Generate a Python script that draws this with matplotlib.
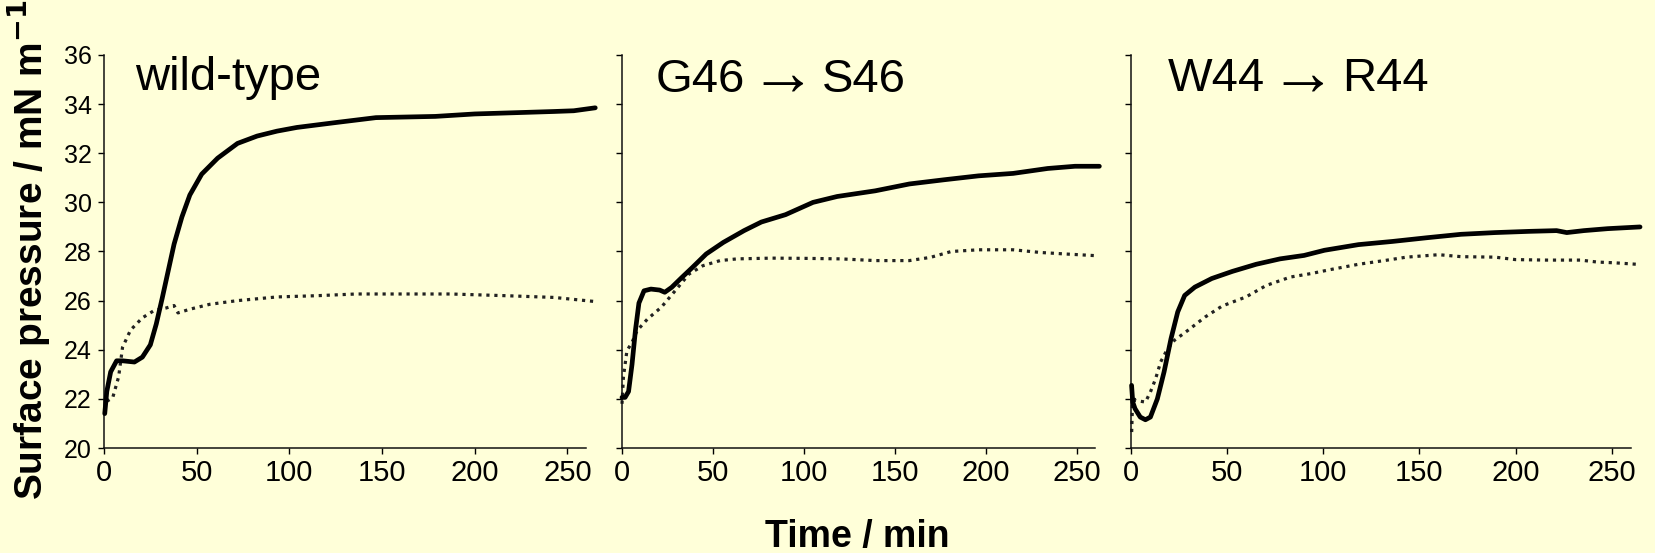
import matplotlib
matplotlib.use("Agg")
import matplotlib.pyplot as plt
from matplotlib.transforms import IdentityTransform

plt.rcParams['font.family'] = ['Liberation Sans', 'DejaVu Sans']

BG = '#FFFFD9'

# ---- data (time in min, surface pressure in mN/m) ----
wt_solid_t = [0.4, 1.5, 3.6, 6.8, 10, 16.4, 20.7, 25, 28.2, 31.4, 34.6, 37.8, 42, 46.3, 52.7,
              61.3, 72, 82.6, 93.3, 104, 125, 146.7, 178.7, 200, 221.4, 242.7, 253.4, 265]
wt_solid_p = [21.4, 22.3, 23.1, 23.55, 23.55, 23.5, 23.7, 24.2, 25.05, 26.1, 27.2, 28.3, 29.4, 30.3, 31.15,
              31.8, 32.4, 32.7, 32.9, 33.05, 33.25, 33.45, 33.5, 33.6, 33.65, 33.7, 33.73, 33.85]
wt_dot_t = [1.5, 4.7, 7.9, 10, 14.3, 20.7, 27.1, 33.5, 37.8, 39.9, 46.3, 57, 72, 93.3, 114.6,
            136, 157, 187, 217, 242.7, 264]
wt_dot_p = [21.9, 22.05, 22.9, 24.1, 24.8, 25.3, 25.6, 25.7, 25.8, 25.5, 25.65, 25.85, 26.0, 26.15, 26.2,
            26.27, 26.27, 26.27, 26.2, 26.13, 25.97]

g46_solid_t = [0, 1.7, 3.6, 5.5, 7.4, 9.3, 12.1, 15.9, 20.7, 23.5, 27.3, 33, 38.7, 46.3, 55.7, 67.1,
               76.6, 89.9, 105, 118.3, 139.2, 158, 177, 196, 215, 234, 249, 262.4]
g46_solid_p = [22.06, 22.06, 22.3, 23.4, 24.8, 25.9, 26.4, 26.47, 26.43, 26.34, 26.54, 26.95, 27.35, 27.9,
               28.37, 28.85, 29.2, 29.5, 30.0, 30.24, 30.47, 30.75, 30.92, 31.08, 31.18, 31.38, 31.47, 31.47]
g46_dot_t = [0, 0.8, 2.7, 5.5, 8.3, 14, 21.6, 29.2, 36.8, 44.4, 53.9, 63.3, 82.3, 101.3, 120.2, 139.2,
             158, 169.5, 181, 196, 215, 230, 243.5, 260.5]
g46_dot_p = [21.8, 22.9, 23.96, 24.3, 24.78, 25.25, 25.73, 26.4, 27.08, 27.42, 27.63, 27.7, 27.73, 27.72,
             27.7, 27.63, 27.63, 27.76, 28.0, 28.07, 28.07, 27.96, 27.9, 27.83]

w44_solid_t = [0.3, 0.9, 2.1, 4.8, 7.5, 10.1, 13.7, 17.2, 20.8, 24.3, 27.9, 33.2, 42, 52.7, 65.1, 77.5,
               90, 100.6, 118.3, 136, 153.8, 171.6, 189.3, 207, 221.3, 226.6, 235.5, 247.9, 264.7]
w44_solid_p = [22.55, 21.87, 21.6, 21.26, 21.15, 21.26, 22.0, 23.1, 24.45, 25.54, 26.21, 26.55, 26.9, 27.19,
               27.48, 27.7, 27.84, 28.05, 28.28, 28.41, 28.56, 28.7, 28.77, 28.82, 28.85, 28.77, 28.85, 28.93, 29.0]
w44_dot_t = [0.35, 0.9, 2.1, 7.5, 10.1, 12.8, 15.4, 19, 22.5, 29.6, 38.5, 47.4, 59.8, 70.4, 82.9, 93.5,
             104.1, 118.3, 132.5, 143.2, 160, 171.6, 189.3, 200, 216, 233.7, 242.5, 251.4, 263]
w44_dot_p = [20.65, 22.14, 21.94, 21.87, 22.28, 22.82, 23.5, 24.04, 24.38, 24.79, 25.33, 25.78, 26.15, 26.62,
             26.96, 27.1, 27.27, 27.48, 27.64, 27.77, 27.87, 27.79, 27.77, 27.67, 27.65, 27.65, 27.57, 27.54, 27.48]

title_parts = [['wild-type'], ['G46', '\u2192', 'S46'], ['W44', '\u2192', 'R44']]
x_ticks = [0, 50, 100, 150, 200, 250]
y_ticks = [20, 22, 24, 26, 28, 30, 32, 34, 36]

panels = [
    (wt_solid_t, wt_solid_p, wt_dot_t, wt_dot_p),
    (g46_solid_t, g46_solid_p, g46_dot_t, g46_dot_p),
    (w44_solid_t, w44_solid_p, w44_dot_t, w44_dot_p),
]

W, H = 1655, 553
fig = plt.figure(figsize=(W / 100, H / 100), dpi=100, facecolor=BG)
renderer = fig.canvas.get_renderer()

# axes geometry in pixels: (left, right)
lr = [(104, 586), (622, 1095), (1131, 1631)]
bottom_px, top_px = 448, 55
title_pos = [(0.064, 0.911), (0.072, 0.906), (0.074, 0.908)]

for i, ((l, r), (st, sp, dt, dp)) in enumerate(zip(lr, panels)):
    ax = fig.add_axes([l / W, (H - bottom_px) / H, (r - l) / W, (bottom_px - top_px) / H])
    ax.set_facecolor(BG)
    ax.plot(st, sp, color='black', lw=3.4, solid_capstyle='round', clip_on=False, zorder=3)
    ax.plot(dt, dp, color='#222222', lw=2.3, linestyle=(0, (1, 1.5)), clip_on=False, zorder=2)
    ax.set_xlim(0, 260)
    ax.set_ylim(20, 36)
    for s in ['top', 'right']:
        ax.spines[s].set_visible(False)
    for s in ['left', 'bottom']:
        ax.spines[s].set_linewidth(1.1)
        ax.spines[s].set_color('#111111')
    ax.set_xticks(x_ticks)
    ax.set_yticks(y_ticks)
    ax.tick_params(axis='x', direction='out', length=4, width=1.0, pad=4, labelsize=21, colors='black')
    ax.tick_params(axis='y', direction='out', length=4, width=1.0, pad=5, labelsize=18, colors='black')
    if i > 0:
        ax.set_yticklabels([])

    parts = title_parts[i]
    t0 = ax.text(title_pos[i][0], title_pos[i][1], parts[0], transform=ax.transAxes,
                 fontsize=34, ha='left', va='baseline', color='black')
    if len(parts) == 3:
        bx, by = ax.transAxes.transform(title_pos[i])
        bb0 = t0.get_window_extent(renderer)
        ta = fig.text(bb0.x1 + 4, by - 3, parts[1], transform=IdentityTransform(),
                      fontsize=48, ha='left', va='baseline', color='black')
        bba = ta.get_window_extent(renderer)
        fig.text(bba.x1 + 6, by, parts[2], transform=IdentityTransform(),
                 fontsize=34, ha='left', va='baseline', color='black')

fig.text(857 / W, 6 / H, 'Time / min', fontsize=27, fontweight='bold', ha='center', va='baseline')
fig.text(29 / W, (H - 250) / H, 'Surface pressure / mN m$^{\\mathbf{-1}}$', fontsize=28, fontweight='bold',
         rotation=90, ha='center', va='center')

fig.savefig('out.png', dpi=100, facecolor=BG)
